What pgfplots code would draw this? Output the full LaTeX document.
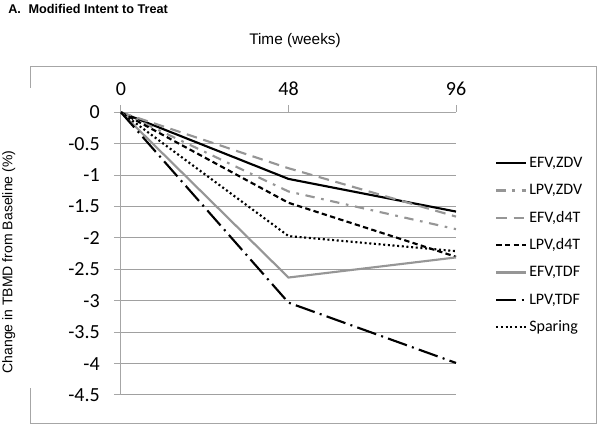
\documentclass[border=0pt]{standalone}
\usepackage{fontspec}
\setmainfont{Carlito}
\newfontfamily\arial{Liberation Sans}
\usepackage{pgfplots}
\pgfplotsset{compat=1.18}
\definecolor{lgray}{RGB}{150,150,150}
\definecolor{fgray}{RGB}{166,166,166}
\definecolor{ggray}{RGB}{160,160,160}
\begin{document}
\begin{tikzpicture}
\useasboundingbox (0,0) rectangle (450pt,320.25pt);
% frame
\draw[fgray, line width=0.75pt] (22.5pt,254.25pt) -- (22.5pt,270pt) -- (447pt,270pt) -- (447pt,2.25pt) -- (22.5pt,2.25pt) -- (22.5pt,29.25pt);
\node[anchor=base west, inner sep=0pt, font=\arial\bfseries\fontsize{9.5}{11}\selectfont] at (6pt,309.75pt) {A.\hspace{0.6em}Modified Intent to Treat};
\node[inner sep=0pt, font=\arial\fontsize{11.5}{13}\selectfont] at (221.25pt,289.5pt) {Time (weeks)};
\node[inner sep=0pt, rotate=90, font=\arial\fontsize{10.5}{12}\selectfont] at (6.5pt,123.75pt) {Change in TBMD from Baseline (\%)};
\begin{axis}[
  at={(90.75pt,24pt)}, anchor=south west,
  scale only axis, width=251.25pt, height=212pt,
  xmin=0, xmax=96, ymin=-4.5, ymax=0,
  axis x line*=top, axis y line*=left,
  xtick={0,48,96}, xticklabels={0,48,96},
  ytick={-4.5,-4,-3.5,-3,-2.5,-2,-1.5,-1,-0.5,0},
  yticklabels={-4.5,-4,-3.5,-3,-2.5,-2,-1.5,-1,-0.5,0},
  tick align=outside, major tick length=5.25pt,
  ymajorgrids, grid style={ggray, line width=0.75pt},
  axis line style={fgray, line width=0.75pt},
  tick style={fgray, line width=0.75pt},
  xticklabel style={font=\fontsize{15}{17}\selectfont, anchor=south, inner sep=0pt, text depth=0pt, yshift=7.5pt},
  yticklabel style={font=\fontsize{15}{17}\selectfont, anchor=east, inner sep=0pt, xshift=-10.5pt},
  clip=false,
  legend style={draw=none, fill=none, at={(1.116,0.848)}, anchor=north west, inner sep=0pt,
    font=\fontsize{12}{14}\selectfont, row sep=9pt,
    nodes={inner sep=0pt, text height=9pt, text depth=2.5pt}},
  legend cell align=left,
  legend image code/.code={\draw[#1] (0pt,0pt) -- (22.5pt,0pt);},
]
\addplot[black, line width=1.6pt] coordinates {(0,0)(48,-1.06)(96,-1.58)};
\addlegendentry{\hspace{1.5pt}EFV,ZDV}
\addplot[lgray, line width=1.6pt, dash pattern=on 7pt off 5pt on 2pt off 5pt] coordinates {(0,0)(48,-1.26)(96,-1.86)};
\addlegendentry{\hspace{1.5pt}LPV,ZDV}
\addplot[lgray, line width=1.6pt, dash pattern=on 8pt off 5pt] coordinates {(0,0)(48,-0.89)(96,-1.66)};
\addlegendentry{\hspace{1.5pt}EFV,d4T}
\addplot[black, line width=1.6pt, dash pattern=on 4pt off 2.5pt] coordinates {(0,0)(48,-1.44)(96,-2.30)};
\addlegendentry{\hspace{1.5pt}LPV,d4T}
\addplot[lgray, line width=1.6pt] coordinates {(0,0)(48,-2.63)(96,-2.31)};
\addlegendentry{\hspace{1.5pt}EFV,TDF}
\addplot[black, line width=1.6pt, dash pattern=on 15pt off 4pt on 1.5pt off 4pt] coordinates {(0,0)(48,-3.03)(96,-3.99)};
\addlegendentry{\hspace{1.5pt}LPV,TDF}
\addplot[black, line width=1.6pt, dash pattern=on 1.5pt off 2pt] coordinates {(0,0)(48,-1.97)(96,-2.21)};
\addlegendentry{\hspace{1.5pt}Sparing}
\end{axis}
\end{tikzpicture}
\end{document}
